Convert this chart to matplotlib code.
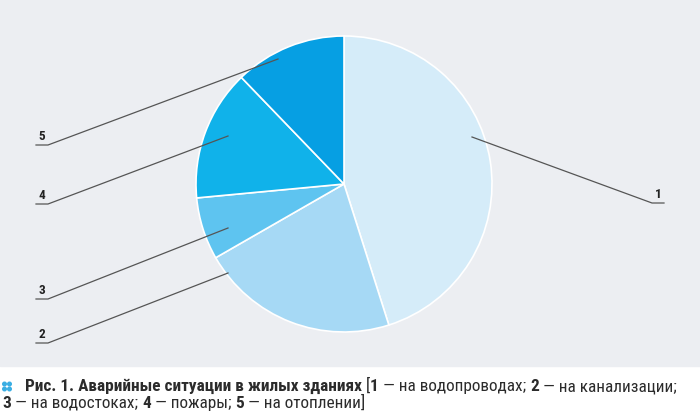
import matplotlib
matplotlib.use('Agg')
import matplotlib.pyplot as plt
from matplotlib import font_manager
from matplotlib.patches import Rectangle, Circle

# shares of accidents (%)
labels = ['1', '2', '3', '4', '5']
shares = [45.1, 21.6, 6.8, 14.3, 12.2]
colors = ['#d5ecf9', '#a6d9f5', '#5ec4f0', '#10b2ea', '#069fe3']

caption1 = [('Рис. 1. Аварийные ситуации в жилых зданиях ', True), ('[', False), ('1', True),
            (' — на водопроводах; ', False), ('2', True), (' — на канализации;', False)]
caption2 = [('3', True), (' — на водостоках; ', False), ('4', True), (' — пожары; ', False),
            ('5', True), (' — на отоплении]', False)]

W, H = 700, 416

# pick a narrow face for the caption if one is there
fonts = font_manager.fontManager.ttflist
names = {f.name for f in fonts}
stretch = 'normal'
if 'Roboto Condensed' in names:
    fam = 'Roboto Condensed'
elif any(f.name == 'DejaVu Sans' and f.stretch == 'condensed' for f in fonts):
    fam, stretch = 'DejaVu Sans', 'condensed'
else:
    fam = 'Roboto'
plt.rcParams['font.family'] = ['Roboto', 'DejaVu Sans']

fig = plt.figure(figsize=(W / 100, H / 100), dpi=100)
fig.patch.set_facecolor('white')
ax = fig.add_axes([0, 0, 1, 1])

ax.add_patch(Rectangle((0, H - 366), W, 366, color='#eceef2', zorder=0))

cx, cy, r = 344, H - 184, 148
ax.pie(shares, colors=colors, startangle=90, counterclock=False, center=(cx, cy), radius=r,
       wedgeprops=dict(edgecolor='white', linewidth=1.2), frame=True)
ax.set_xlim(0, W)
ax.set_ylim(0, H)
ax.set_aspect('equal')
ax.axis('off')

# leader lines: inner point, elbow, end of underline (pixels from top)
leaders = {
    '1': ((472, 137), (652, 203), (664, 203)),
    '2': ((228, 273), (48, 343), (36, 343)),
    '3': ((228, 228), (48, 299), (36, 299)),
    '4': ((228, 136), (48, 204), (36, 204)),
    '5': ((278, 59), (48, 145), (36, 145)),
}
for lab in labels:
    p0, p1, p2 = leaders[lab]
    ax.plot([p0[0], p1[0], p2[0]], [H - p0[1], H - p1[1], H - p2[1]], color='#555555', lw=0.9, zorder=5)
    ax.text((p1[0] + p2[0]) / 2, H - p1[1] + 2, lab, ha='center', va='bottom', fontsize=9.5,
            fontweight='bold', color='#222222', family=[fam, 'DejaVu Sans'])

# caption, bold and plain pieces placed one after another
fig.canvas.draw()
rend = fig.canvas.get_renderer()


def piece(x, y, txt, bold, size):
    return fig.text(x / W, 1 - y / H, txt, fontsize=size, color='#2b2b2b', va='baseline',
                    family=[fam, 'DejaVu Sans'], fontstretch=stretch,
                    fontweight='bold' if bold else 'normal')


def write_line(parts, x0, y, size):
    x = x0
    for txt, bold in parts:
        t = piece(x, y, txt, bold, size)
        x += t.get_window_extent(rend).width
    return x


def line_width(parts, size):
    w = 0
    for txt, bold in parts:
        t = piece(0, 0, txt, bold, size)
        w += t.get_window_extent(rend).width
        t.remove()
    return w


size = 11
size = min(12.4, size * (697 - 25) / line_width(caption1, size))
# two-by-two dot marker before the caption
for dx in (4.5, 9.5):
    for dy in (384, 389):
        ax.add_patch(Circle((dx, H - dy), 1.8, color='#3aaee3', zorder=6))
write_line(caption1, 25, 391, size)
write_line(caption2, 2, 408, size)

fig.savefig('out.png', dpi=100, facecolor='white')
